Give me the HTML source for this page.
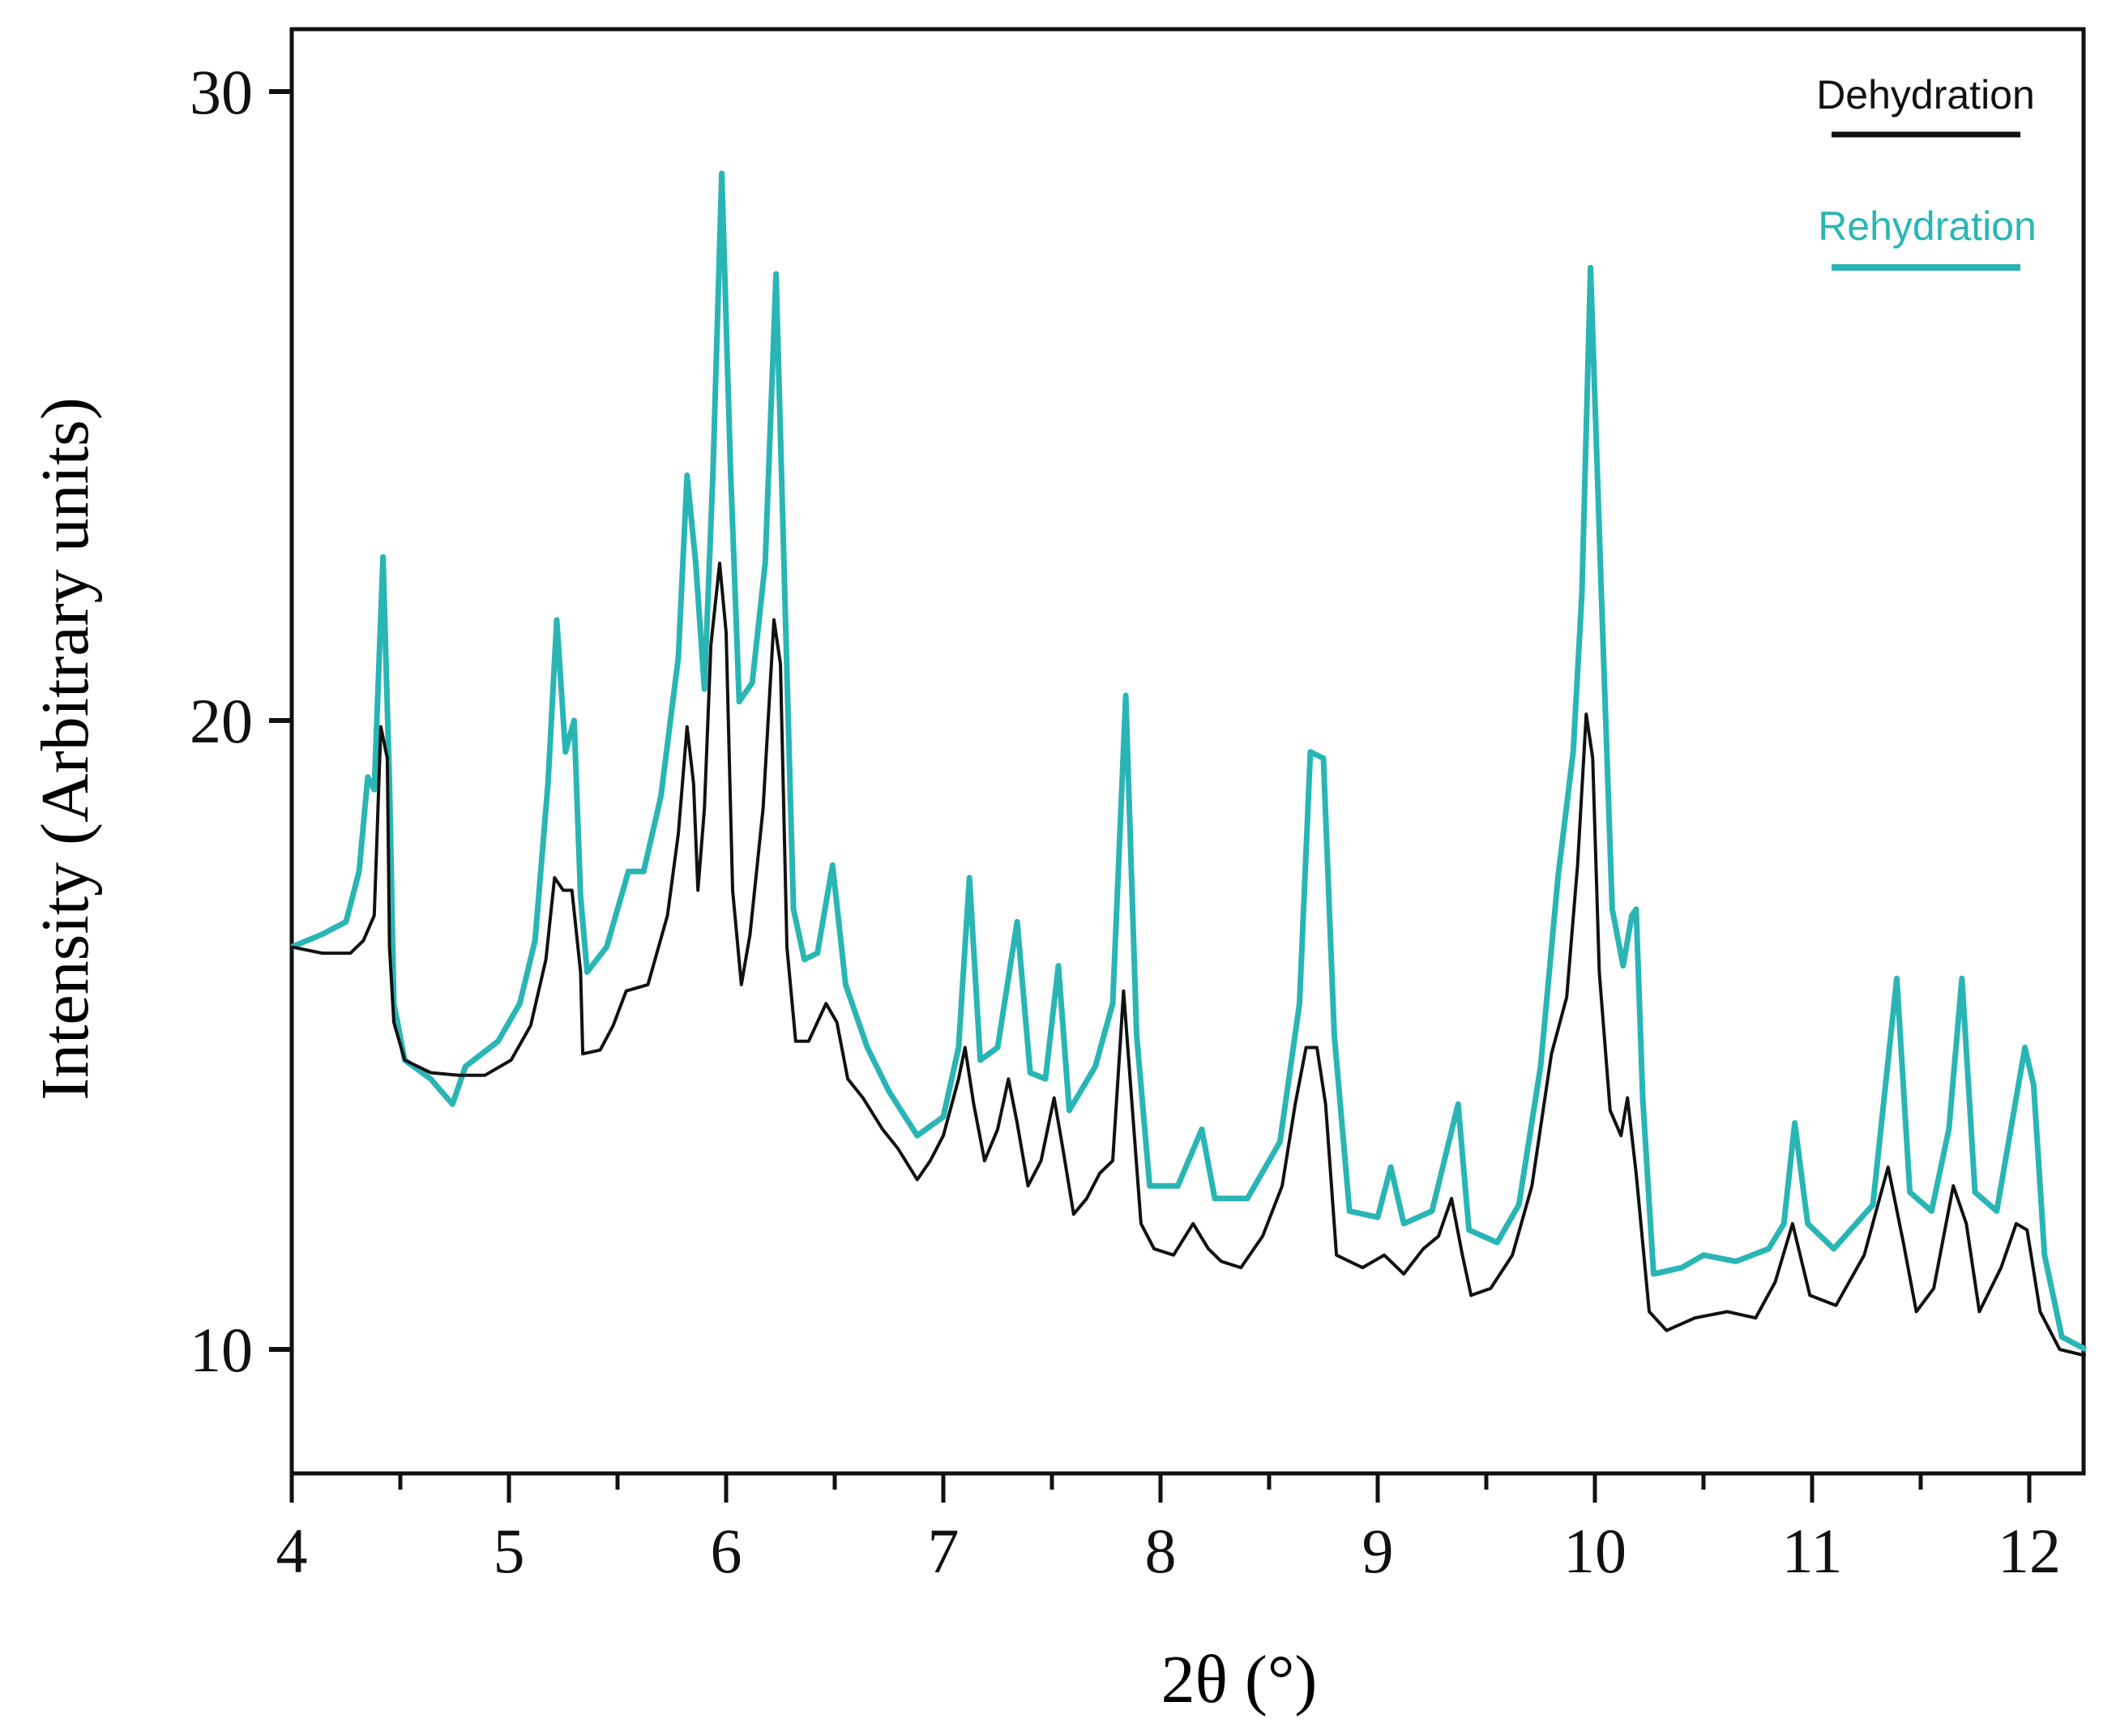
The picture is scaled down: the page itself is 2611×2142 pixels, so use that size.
<!DOCTYPE html>
<html><head><meta charset="utf-8"><style>
html,body{margin:0;padding:0;background:#fff;}
svg{display:block;}
</style></head><body>
<svg id="chart" width="2611" height="2142" viewBox="0 0 2611 2142" xmlns="http://www.w3.org/2000/svg">
<g id="axes"></g>
<g id="series"></g>
<text x="1529" y="2100" text-anchor="middle" font-family="Liberation Serif, serif" font-size="84">2θ (°)</text>
<text transform="translate(108,924) rotate(-90)" text-anchor="middle" font-family="Liberation Serif, serif" font-size="84">Intensity (Arbitrary units)</text>
<g>
<text x="2376" y="134" text-anchor="middle" font-family="Liberation Sans, sans-serif" font-size="50" fill="#111">Dehydration</text>
<line x1="2260" y1="166" x2="2493" y2="166" stroke="#111" stroke-width="7"/>
<text x="2378" y="296" text-anchor="middle" font-family="Liberation Sans, sans-serif" font-size="50" fill="#2ab5b5">Rehydration</text>
<line x1="2260" y1="330" x2="2493" y2="330" stroke="#2ab5b5" stroke-width="8"/>
</g>
</svg>
<script>
const xTicks = [4,5,6,7,8,9,10,11,12];
const xMinor = [4.5,5.5,6.5,7.5,8.5,9.5,10.5,11.5];
const yTicks = [10,20,30];
const dehydX = [4.0,4.14,4.27,4.33,4.38,4.41,4.44,4.45,4.47,4.52,4.64,4.77,4.89,5.01,5.1,5.17,5.21,5.25,5.29,5.33,5.34,5.42,5.48,5.54,5.64,5.73,5.78,5.82,5.85,5.87,5.9,5.93,5.97,6.0,6.03,6.07,6.11,6.17,6.22,6.25,6.28,6.32,6.38,6.46,6.51,6.56,6.63,6.72,6.79,6.88,6.94,7.0,7.07,7.1,7.14,7.19,7.25,7.3,7.34,7.39,7.45,7.51,7.55,7.6,7.66,7.72,7.78,7.83,7.86,7.91,7.97,8.06,8.15,8.22,8.28,8.37,8.47,8.56,8.62,8.67,8.72,8.76,8.81,8.87,8.93,9.03,9.12,9.21,9.28,9.34,9.39,9.43,9.52,9.62,9.71,9.8,9.87,9.92,9.96,9.99,10.02,10.07,10.12,10.15,10.19,10.25,10.33,10.46,10.61,10.74,10.83,10.91,10.99,11.11,11.24,11.35,11.42,11.48,11.56,11.65,11.71,11.77,11.87,11.94,11.99,12.05,12.14,12.26];
const dehydY = [16.4,16.3,16.3,16.5,16.9,19.9,19.4,16.4,15.2,14.6,14.4,14.36,14.36,14.6,15.15,16.2,17.5,17.3,17.3,16.0,14.7,14.76,15.15,15.7,15.8,16.9,18.2,19.9,19.0,17.3,18.6,21.2,22.5,21.4,17.3,15.8,16.6,18.6,21.6,20.9,16.4,14.9,14.9,15.5,15.2,14.3,14.0,13.5,13.2,12.7,13.0,13.4,14.3,14.8,13.9,13.0,13.5,14.3,13.6,12.6,13.0,14.0,13.2,12.15,12.4,12.8,13.0,15.7,14.3,12.0,11.6,11.5,12.0,11.6,11.4,11.3,11.8,12.6,13.9,14.8,14.8,13.9,11.5,11.4,11.3,11.5,11.2,11.6,11.8,12.4,11.5,10.86,10.97,11.5,12.6,14.7,15.6,17.7,20.1,19.4,16.0,13.8,13.4,14.0,12.8,10.6,10.3,10.5,10.6,10.5,11.07,12.0,10.86,10.7,11.5,12.9,11.7,10.6,10.97,12.6,12.0,10.6,11.3,12.0,11.9,10.6,10.0,9.9];
const rehydX = [4.0,4.14,4.25,4.31,4.35,4.38,4.42,4.45,4.47,4.52,4.64,4.74,4.8,4.95,5.05,5.12,5.18,5.22,5.26,5.3,5.33,5.36,5.45,5.55,5.62,5.7,5.78,5.82,5.86,5.9,5.94,5.98,6.02,6.06,6.12,6.18,6.23,6.27,6.31,6.36,6.42,6.49,6.55,6.65,6.75,6.88,7.0,7.07,7.12,7.17,7.25,7.34,7.4,7.47,7.53,7.58,7.7,7.78,7.84,7.89,7.95,8.08,8.19,8.25,8.4,8.55,8.64,8.69,8.75,8.8,8.87,9.0,9.06,9.12,9.25,9.37,9.42,9.55,9.65,9.75,9.83,9.9,9.94,9.98,10.03,10.08,10.13,10.17,10.19,10.22,10.27,10.4,10.5,10.65,10.8,10.87,10.92,10.98,11.1,11.28,11.39,11.45,11.55,11.63,11.69,11.75,11.85,11.93,11.98,12.02,12.07,12.15,12.26];
const rehydY = [16.4,16.6,16.8,17.6,19.1,18.9,22.6,19.0,15.5,14.6,14.3,13.9,14.5,14.9,15.5,16.5,19.0,21.6,19.5,20.0,17.2,16.0,16.4,17.6,17.6,18.8,21.0,23.9,22.5,20.5,24.0,28.7,24.0,20.3,20.6,22.5,27.1,22.0,17.0,16.2,16.3,17.7,15.8,14.8,14.1,13.4,13.7,14.8,17.5,14.6,14.8,16.8,14.4,14.3,16.1,13.8,14.5,15.5,20.4,15.0,12.6,12.6,13.5,12.4,12.4,13.3,15.5,19.5,19.4,15.0,12.2,12.1,12.9,12.0,12.2,13.9,11.9,11.7,12.3,14.5,17.5,19.5,22.0,27.2,22.0,17.0,16.1,16.9,17.0,14.0,11.2,11.3,11.5,11.4,11.6,12.0,13.6,12.0,11.6,12.3,15.9,12.5,12.2,13.5,15.9,12.5,12.2,13.8,14.8,14.2,11.5,10.2,10.0];

const L=360,R=2571,T=36,B=1818;
function sx(v){return 360+(v-4)*268;}
function sy(v){return 1665-(v-10)*77.6;}
const NS='http://www.w3.org/2000/svg';
const axes=document.getElementById('axes');
const ser=document.getElementById('series');
function mk(tag,attrs,parent){const e=document.createElementNS(NS,tag);for(const k in attrs)e.setAttribute(k,attrs[k]);parent.appendChild(e);return e;}

const frame=mk('rect',{x:L,y:T,width:R-L,height:B-T,fill:'none',stroke:'#111','stroke-width':5},axes);



xTicks.forEach(v=>{
  const t=mk('line',{x1:sx(v),x2:sx(v),y1:B,y2:B+36,stroke:'#111','stroke-width':5},axes);
  
  
  const lb=mk('text',{x:sx(v),y:B+122,'text-anchor':'middle','font-family':'Liberation Serif, serif','font-size':78,fill:'#111'},axes);
  lb.textContent=v;
  
  
});
xMinor.forEach(v=>{
  const t=mk('line',{x1:sx(v),x2:sx(v),y1:B,y2:B+20,stroke:'#111','stroke-width':5},axes);
  
  
});
yTicks.forEach(v=>{
  const t=mk('line',{x1:L-28,x2:L,y1:sy(v),y2:sy(v),stroke:'#111','stroke-width':6},axes);
  
  
  const lb=mk('text',{x:L-48,y:sy(v)+27,'text-anchor':'end','font-family':'Liberation Serif, serif','font-size':78,fill:'#111'},axes);
  lb.textContent=v;
  
  
});

function path(xs,ys){return xs.map((x,i)=>(i?'L':'M')+sx(x).toFixed(1)+','+sy(ys[i]).toFixed(1)).join(' ');}
const p2=mk('path',{d:path(rehydX,rehydY),fill:'none',stroke:'#2ab5b5','stroke-width':7,'stroke-linejoin':'round'},ser);


const p1=mk('path',{d:path(dehydX,dehydY),fill:'none',stroke:'#111','stroke-width':4,'stroke-linejoin':'round'},ser);


</script>
</body></html>
